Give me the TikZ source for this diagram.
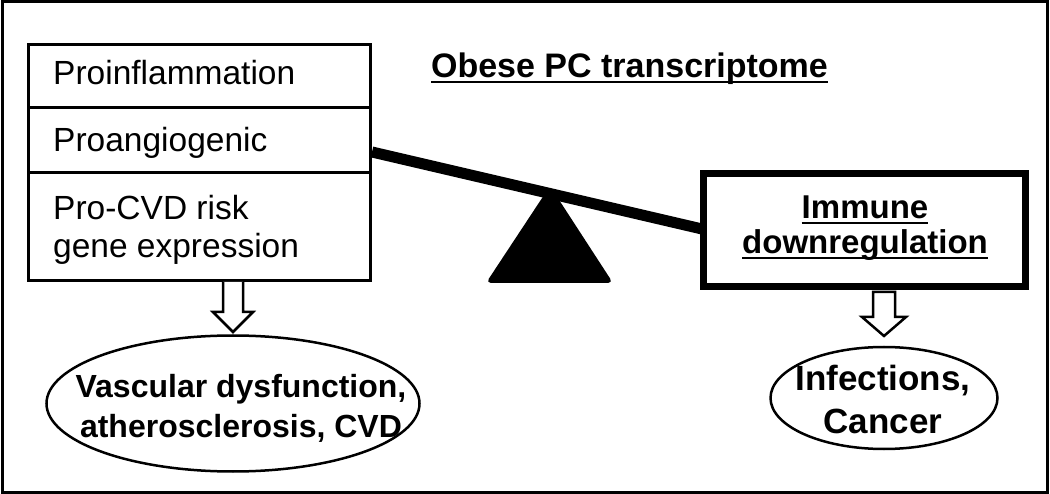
\documentclass[tikz,border=0pt]{standalone}
\usepackage{fontspec}
\setmainfont{Liberation Sans}
\usetikzlibrary{shapes.geometric}
\newcommand{\ulx}[1]{\setbox0\hbox{#1}\rlap{\rule[-5pt]{\wd0}{2pt}}\box0}
\tikzset{
  frame/.style={line width=3pt},
  boxline/.style={line width=3pt},
  txt/.style={anchor=base west, inner sep=0pt, font=\fontsize{33.5}{38}\selectfont},
  btxt/.style={anchor=base, inner sep=0pt, font=\fontsize{33}{38}\selectfont\bfseries},
  hollowarrow/.style={line width=2.5pt, fill=white, line join=miter},
  oval/.style={ellipse, draw, line width=2.5pt, inner sep=0pt}
}
\begin{document}
\begin{tikzpicture}[x=1pt,y=-1pt]
\useasboundingbox (0,0) rectangle (1050,494);
\draw[frame] (2,2) rectangle (1047.5,492);
% left stacked box
\draw[boxline] (28,45) rectangle (370,281);
\draw[boxline] (28,108) -- (370,108);
\draw[boxline] (28,173) -- (370,173);
\node[txt] (t1) at (53,85) {Proinflammation};
\node[txt] (t2) at (53,152) {Proangiogenic};
\node[txt] (t3) at (53,220) {Pro-CVD risk};
\node[txt] (t4) at (53,258) {gene expression};
% title
\node[btxt, font=\fontsize{34}{38}\selectfont\bfseries] (title) at (629.5,78) {\ulx{Obese PC transcriptome}};
% seesaw
\coordinate (bl) at (372,152);
\coordinate (br) at (702,229);
\draw[line width=11pt] (bl) -- (br);
\fill[rounded corners=5pt] (550,186) -- (613,283) -- (486,283) -- cycle;
% right box
\draw[line width=7pt] (703.5,173.5) rectangle (1025,286.5);
\node[btxt] (imm1) at (865,219) {\ulx{Immune}};
\node[btxt] (imm2) at (865,254) {\ulx{downregulation}};
% arrows
\draw[hollowarrow] (223,282) -- (223,312) -- (213,312) -- (233,332) -- (253,312) -- (243,312) -- (243,282);
\draw[hollowarrow] (873,292) -- (873,317) -- (862,317) -- (884,336) -- (906,317) -- (895,317) -- (895,292) -- cycle;
% ellipses
\node[oval, minimum width=373pt, minimum height=136pt] (e1) at (233,403.5) {};
\node[btxt, font=\fontsize{32}{38}\selectfont\bfseries] (e1a) at (241,398) {Vascular dysfunction,};
\node[btxt, font=\fontsize{32}{38}\selectfont\bfseries] (e1b) at (241,437) {atherosclerosis, CVD};
\node[oval, minimum width=227pt, minimum height=102pt] (e2) at (884,398) {};
\node[btxt, font=\fontsize{35}{38}\selectfont\bfseries] (e2a) at (883,390) {Infections,};
\node[btxt, font=\fontsize{35}{38}\selectfont\bfseries] (e2b) at (883,433) {Cancer};
\end{tikzpicture}
\end{document}
